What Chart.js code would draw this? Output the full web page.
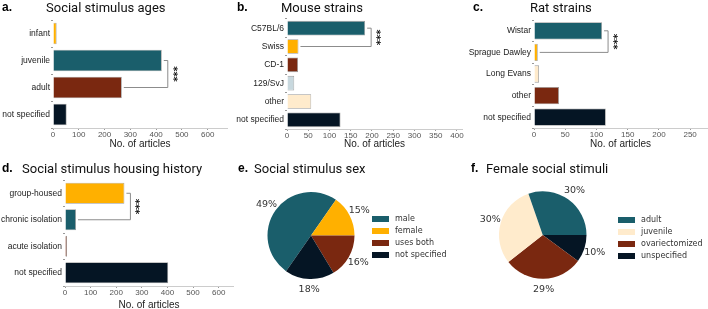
<!DOCTYPE html>
<html>
<head>
<meta charset="utf-8">
<script src="https://cdn.jsdelivr.net/npm/chart.js@4.4.1/dist/chart.umd.min.js"></script>
<style>
  body { margin: 0; background: #fff; }
  #fig { position: relative; width: 708px; height: 309px; overflow: hidden; }
  #fig canvas { position: absolute; }
  .ttl { position: absolute; font-family: Roboto, "Liberation Sans", sans-serif; font-size: 13px; line-height: 13px; color: #111; white-space: nowrap; z-index: 2; }
  .lt { position: absolute; font-family: "Liberation Sans", Arial, sans-serif; font-weight: bold; font-size: 12px; line-height: 13px; color: #000; z-index: 2; }
</style>
</head>
<body>
<div id="fig">
  <span class="lt" style="left:2px;top:1px">a.</span><span class="ttl" style="left:46px;top:1px">Social stimulus ages</span>
  <span class="lt" style="left:237px;top:1px">b.</span><span class="ttl" style="left:281px;top:1px">Mouse strains</span>
  <span class="lt" style="left:473px;top:1px">c.</span><span class="ttl" style="left:530px;top:1px">Rat strains</span>
  <span class="lt" style="left:2px;top:162px">d.</span><span class="ttl" style="left:22px;top:162px">Social stimulus housing history</span>
  <span class="lt" style="left:238px;top:162px">e.</span><span class="ttl" style="left:254px;top:162px">Social stimulus sex</span>
  <span class="lt" style="left:471px;top:162px">f.</span><span class="ttl" style="left:486px;top:162px">Female social stimuli</span>

  <canvas id="chartA" width="236" height="152" style="left:0;top:0"></canvas>
  <canvas id="chartB" width="234" height="152" style="left:236px;top:0"></canvas>
  <canvas id="chartC" width="240" height="152" style="left:468px;top:0"></canvas>
  <canvas id="chartD" width="236" height="160" style="left:0;top:150px"></canvas>
  <canvas id="chartE" width="215" height="120" style="left:255px;top:185px"></canvas>
  <canvas id="chartF" width="238" height="120" style="left:470px;top:185px"></canvas>
</div>
<script>
// warna
const TEAL = '#1a5e6b', ORANGE = '#ffb000', BROWN = '#7a2810', NAVY = '#051524';
const LIGHTBLUE = '#c8d8de', CREAM = '#ffebcc';

// data panel a
const ageCategories = ['infant', 'juvenile', 'adult', 'not specified'];
const ageCounts = [14, 422, 267, 53];
const ageTicks = [0, 100, 200, 300, 400, 500, 600];

// data panel b
const mouseStrains = ['C57BL/6', 'Swiss', 'CD-1', '129/SvJ', 'other', 'not specified'];
const mouseCounts = [184, 27, 26, 17, 57, 126];
const mouseTicks = [0, 50, 100, 150, 200, 250, 300, 350, 400];

// data panel c
const ratStrains = ['Wistar', 'Sprague Dawley', 'Long Evans', 'other', 'not specified'];
const ratCounts = [109, 6, 8, 40, 115];
const ratTicks = [0, 50, 100, 150, 200, 250];

// data panel d
const housingCategories = ['group-housed', 'chronic isolation', 'acute isolation', 'not specified'];
const housingCounts = [232, 43, 8, 403];
const housingTicks = [0, 100, 200, 300, 400, 500, 600];

// data panel e (persen)
const sexCategories = ['male', 'female', 'uses both', 'not specified'];
const sexPercents = [49, 15, 16, 18];

// data panel f (persen)
const femaleCategories = ['adult', 'juvenile', 'ovariectomized', 'unspecified'];
const femalePercents = [30, 30, 29, 10];

Chart.defaults.font.family = '"Liberation Sans", Arial, sans-serif';
Chart.defaults.animation = false;

// garis signifikansi dengan bintang
const sigBrackets = {
  id: 'sigBrackets',
  afterDatasetsDraw(chart, args, opts) {
    if (!opts.pairs) return;
    const meta = chart.getDatasetMeta(0);
    const ctx = chart.ctx;
    opts.pairs.forEach(([i, j]) => {
      const up = meta.data[i], low = meta.data[j];
      const xb = up.x + 6;
      ctx.save();
      ctx.strokeStyle = '#8c8c8c';
      ctx.lineWidth = 1;
      ctx.beginPath();
      ctx.moveTo(up.x + 2, up.y);
      ctx.lineTo(xb, up.y);
      ctx.lineTo(xb, low.y);
      ctx.lineTo(low.x + 2, low.y);
      ctx.stroke();
      ctx.translate(xb + 4.5, (up.y + low.y) / 2);
      ctx.rotate(Math.PI / 2);
      ctx.fillStyle = '#111';
      ctx.font = 'bold 10px "DejaVu Sans"';
      ctx.textAlign = 'center';
      ctx.textBaseline = 'middle';
      ctx.fillText('***', 0, 0);
      ctx.restore();
    });
  }
};

// label persen di luar pie
const pieLabels = {
  id: 'pieLabels',
  afterDatasetsDraw(chart) {
    const meta = chart.getDatasetMeta(0);
    const data = chart.data.datasets[0].data;
    const ctx = chart.ctx;
    ctx.save();
    ctx.fillStyle = '#333';
    ctx.font = '9.5px "DejaVu Sans"';
    ctx.textAlign = 'center';
    ctx.textBaseline = 'middle';
    meta.data.forEach((arc, i) => {
      const p = arc.getProps(['x', 'y', 'startAngle', 'endAngle', 'outerRadius'], true);
      const mid = (p.startAngle + p.endAngle) / 2;
      const r = p.outerRadius * 1.25;
      ctx.fillText(data[i] + '%', p.x + Math.cos(mid) * r, p.y + Math.sin(mid) * r);
    });
    ctx.restore();
  }
};

// legenda sederhana di samping pie
const sideLegend = {
  id: 'sideLegend',
  afterDraw(chart, args, opts) {
    const ctx = chart.ctx;
    const labels = chart.data.labels;
    const colors = chart.data.datasets[0].backgroundColor;
    const order = opts.order || labels.map((_, i) => i);
    ctx.save();
    ctx.font = '8px "DejaVu Sans"';
    ctx.textBaseline = 'middle';
    order.forEach((idx, k) => {
      const y = opts.y + k * 12;
      ctx.fillStyle = colors[idx];
      ctx.fillRect(opts.x, y - 3, 17, 6);
      ctx.fillStyle = '#333';
      ctx.fillText(labels[idx], opts.x + 23, y);
    });
    ctx.restore();
  }
};

function makeBar(id, cats, vals, colors, ticks, xmax, pad, yWidth, xHeight, pairs) {
  return new Chart(document.getElementById(id), {
    type: 'bar',
    data: {
      labels: cats,
      datasets: [{
        data: vals,
        backgroundColor: colors,
        borderColor: '#9a9a9a',
        borderWidth: 0.8,
        barPercentage: 0.8,
        categoryPercentage: 1
      }]
    },
    options: {
      indexAxis: 'y',
      responsive: false,
      devicePixelRatio: 1,
      layout: { padding: pad },
      plugins: {
        legend: { display: false },
        tooltip: { enabled: false },
        sigBrackets: { pairs: pairs }
      },
      scales: {
        x: {
          min: 0,
          max: xmax,
          afterBuildTicks: s => { s.ticks = ticks.map(v => ({ value: v })); },
          afterFit: s => { s.height = xHeight; },
          border: { display: true, color: '#cccccc', width: 1 },
          grid: { drawOnChartArea: false, tickLength: 2, color: '#999' },
          ticks: { color: '#555', font: { size: 8 }, padding: 0, maxRotation: 0, autoSkip: false },
          title: { display: true, text: 'No. of articles', color: '#222', font: { size: 10, lineHeight: 1 }, padding: { top: 0, bottom: 0 } }
        },
        y: {
          afterFit: s => { s.width = yWidth; },
          border: { display: false },
          grid: { drawOnChartArea: false, tickLength: 2, color: '#999' },
          ticks: { color: '#222', font: { size: 8.5 }, padding: 1, autoSkip: false }
        }
      }
    },
    plugins: [sigBrackets]
  });
}

makeBar('chartA', ageCategories, ageCounts, [ORANGE, TEAL, BROWN, NAVY], ageTicks, 675,
  { left: 0, top: 20, right: 9, bottom: 3 }, 53, 21, [[1, 2]]);
makeBar('chartB', mouseStrains, mouseCounts, [TEAL, ORANGE, BROWN, LIGHTBLUE, CREAM, NAVY], mouseTicks, 412,
  { left: 0, top: 19, right: 8, bottom: 3 }, 51, 20, [[0, 1]]);
makeBar('chartC', ratStrains, ratCounts, [TEAL, ORANGE, CREAM, BROWN, NAVY], ratTicks, 277,
  { left: 0, top: 20, right: 1, bottom: 3 }, 66, 21, [[0, 1]]);
makeBar('chartD', housingCategories, housingCounts, [ORANGE, TEAL, BROWN, NAVY], housingTicks, 656,
  { left: 0, top: 30, right: 3, bottom: 0 }, 65, 24, [[0, 1]]);

function makePie(id, cats, vals, colors, rotation, pad, legendOpts) {
  return new Chart(document.getElementById(id), {
    type: 'pie',
    data: {
      labels: cats,
      datasets: [{ data: vals, backgroundColor: colors, borderWidth: 0 }]
    },
    options: {
      responsive: false,
      devicePixelRatio: 1,
      rotation: rotation,
      layout: { padding: pad },
      plugins: {
        legend: { display: false },
        tooltip: { enabled: false },
        sideLegend: legendOpts
      }
    },
    plugins: [pieLabels, sideLegend]
  });
}

// pie e: searah jarum jam mulai dari kiri bawah
makePie('chartE', sexCategories, sexPercents, [TEAL, ORANGE, BROWN, NAVY], 215,
  { left: 12.5, top: 7, right: 115.5, bottom: 26 }, { x: 117, y: 34 });

// pie f: digambar berlawanan arah jarum jam dari arah jam 3, jadi urutannya dibalik
makePie('chartF', femaleCategories.slice().reverse(), femalePercents.slice().reverse(),
  [TEAL, CREAM, BROWN, NAVY].reverse(), 90,
  { left: 29, top: 6, right: 121.5, bottom: 26 }, { x: 148, y: 35, order: [3, 2, 1, 0] });
</script>
</body>
</html>
